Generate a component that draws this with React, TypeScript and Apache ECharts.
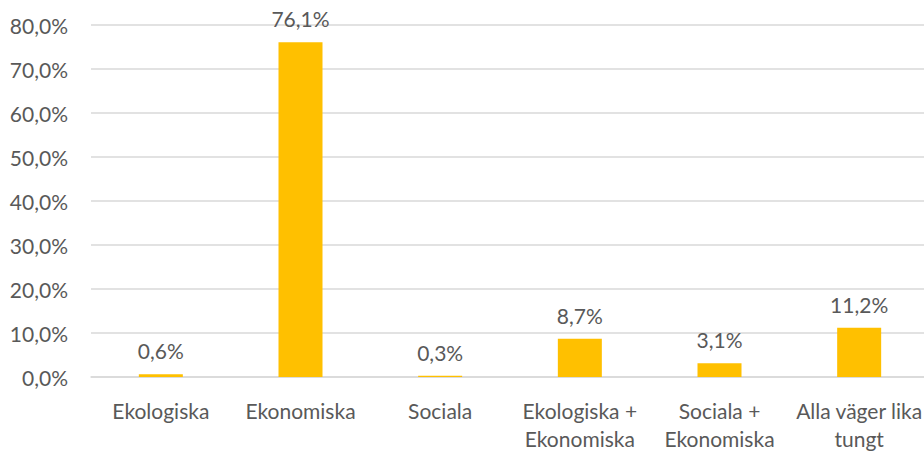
import React, { useEffect, useRef } from "react";
import * as echarts from "echarts";

const categories = [
  "Ekologiska",
  "Ekonomiska",
  "Sociala",
  "Ekologiska +\nEkonomiska",
  "Sociala +\nEkonomiska",
  "Alla väger lika\ntungt",
];
const values = [0.6, 76.1, 0.3, 8.7, 3.1, 11.2];
const yTicks = { min: 0, max: 80, interval: 10 };

const fmt = (v: number) => v.toFixed(1).replace(".", ",") + "%";
const FONT = "Lato";
const TEXT = "#595959";

export default function App() {
  const ref = useRef<HTMLDivElement>(null);
  useEffect(() => {
    document.body.style.margin = "0";
    document.body.style.overflow = "hidden";
    const chart = echarts.init(ref.current!, null, { renderer: "svg" });
    chart.setOption({
      animation: false,
      backgroundColor: "#ffffff",
      grid: { left: 91, right: 11, top: 25, bottom: 73 },
      xAxis: {
        type: "category",
        data: categories,
        axisLine: { lineStyle: { color: "#d9d9d9", width: 1.5 } },
        axisTick: { show: false },
        axisLabel: {
          color: TEXT,
          fontFamily: FONT,
          fontSize: 21,
          lineHeight: 28,
          margin: 19,
          interval: 0,
        },
      },
      yAxis: {
        type: "value",
        min: yTicks.min,
        max: yTicks.max,
        interval: yTicks.interval,
        axisLine: { show: false },
        axisTick: { show: false },
        splitLine: { lineStyle: { color: "#d9d9d9", width: 1.5 } },
        axisLabel: {
          color: TEXT,
          fontFamily: FONT,
          fontSize: 21,
          margin: 23,
          formatter: (v: number) => fmt(v),
        },
      },
      series: [
        {
          type: "bar",
          data: values,
          barWidth: 44,
          itemStyle: { color: "#ffc000" },
          label: {
            show: true,
            position: "top",
            distance: 13,
            color: TEXT,
            fontFamily: FONT,
            fontSize: 21,
            formatter: (p: any) => fmt(p.value),
          },
        },
      ],
    });
    return () => chart.dispose();
  }, []);
  return (
    <div
      ref={ref}
      style={{ position: "fixed", left: 0, top: 0, width: 940, height: 452 }}
    />
  );
}
